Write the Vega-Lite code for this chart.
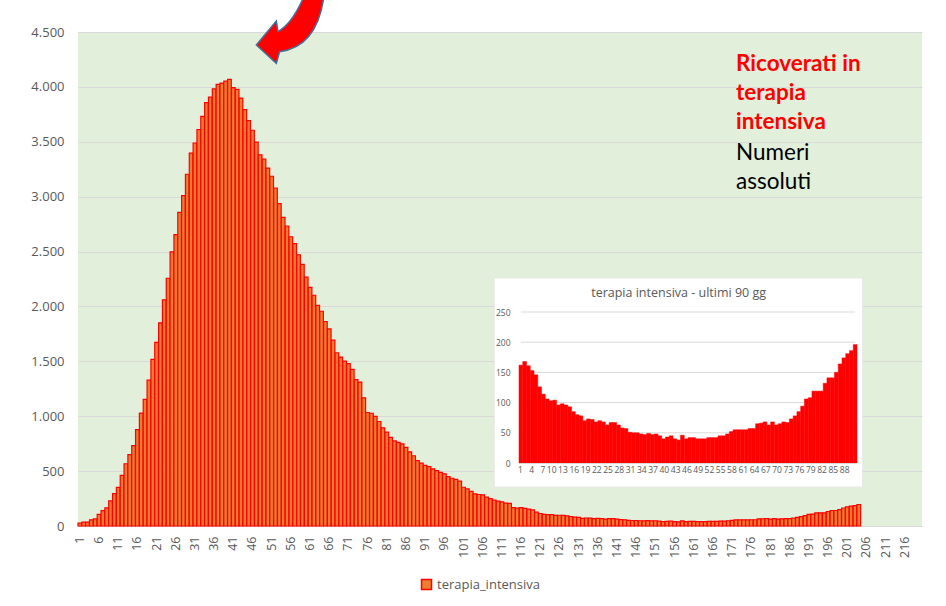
{
  "$schema": "https://vega.github.io/schema/vega-lite/v6.json",
  "width": 844,
  "height": 494,
  "autosize": "none",
  "padding": {"left": 78, "top": 32, "right": 24, "bottom": 80},
  "background": "white",
  "config": {
    "view": {"fill": "#E2EFDA", "stroke": null},
    "font": "Open Sans"
  },
  "datasets": {
    "main": [
      {"day":1,"v":26},{"day":2,"v":35},{"day":3,"v":36},{"day":4,"v":56},{"day":5,"v":64},{"day":6,"v":105},{"day":7,"v":140},{"day":8,"v":166},{"day":9,"v":229},{"day":10,"v":295},
      {"day":11,"v":351},{"day":12,"v":462},{"day":13,"v":567},{"day":14,"v":650},{"day":15,"v":733},{"day":16,"v":877},{"day":17,"v":1028},{"day":18,"v":1153},{"day":19,"v":1328},{"day":20,"v":1518},
      {"day":21,"v":1672},{"day":22,"v":1851},{"day":23,"v":2060},{"day":24,"v":2257},{"day":25,"v":2498},{"day":26,"v":2655},{"day":27,"v":2857},{"day":28,"v":3009},{"day":29,"v":3204},{"day":30,"v":3396},
      {"day":31,"v":3489},{"day":32,"v":3612},{"day":33,"v":3732},{"day":34,"v":3856},{"day":35,"v":3906},{"day":36,"v":3981},{"day":37,"v":4023},{"day":38,"v":4035},{"day":39,"v":4053},{"day":40,"v":4068},
      {"day":41,"v":3994},{"day":42,"v":3977},{"day":43,"v":3898},{"day":44,"v":3792},{"day":45,"v":3693},{"day":46,"v":3605},{"day":47,"v":3497},{"day":48,"v":3381},{"day":49,"v":3343},{"day":50,"v":3260},
      {"day":51,"v":3186},{"day":52,"v":3079},{"day":53,"v":2936},{"day":54,"v":2812},{"day":55,"v":2733},{"day":56,"v":2635},{"day":57,"v":2573},{"day":58,"v":2471},{"day":59,"v":2384},{"day":60,"v":2267},
      {"day":61,"v":2173},{"day":62,"v":2102},{"day":63,"v":2009},{"day":64,"v":1956},{"day":65,"v":1863},{"day":66,"v":1795},{"day":67,"v":1694},{"day":68,"v":1578},{"day":69,"v":1539},{"day":70,"v":1501},
      {"day":71,"v":1479},{"day":72,"v":1427},{"day":73,"v":1333},{"day":74,"v":1311},{"day":75,"v":1168},{"day":76,"v":1034},{"day":77,"v":1027},{"day":78,"v":999},{"day":79,"v":952},{"day":80,"v":893},
      {"day":81,"v":855},{"day":82,"v":808},{"day":83,"v":775},{"day":84,"v":762},{"day":85,"v":749},{"day":86,"v":716},{"day":87,"v":676},{"day":88,"v":640},{"day":89,"v":595},{"day":90,"v":572},
      {"day":91,"v":553},{"day":92,"v":541},{"day":93,"v":521},{"day":94,"v":505},{"day":95,"v":489},{"day":96,"v":475},{"day":97,"v":450},{"day":98,"v":435},{"day":99,"v":424},{"day":100,"v":408},
      {"day":101,"v":353},{"day":102,"v":338},{"day":103,"v":316},{"day":104,"v":293},{"day":105,"v":287},{"day":106,"v":283},{"day":107,"v":263},{"day":108,"v":249},{"day":109,"v":236},{"day":110,"v":227},
      {"day":111,"v":220},{"day":112,"v":209},{"day":113,"v":207},{"day":114,"v":168},{"day":115,"v":162},{"day":116,"v":168},{"day":117,"v":161},{"day":118,"v":153},{"day":119,"v":146},{"day":120,"v":126},
      {"day":121,"v":114},{"day":122,"v":106},{"day":123,"v":103},{"day":124,"v":104},{"day":125,"v":96},{"day":126,"v":98},{"day":127,"v":96},{"day":128,"v":93},{"day":129,"v":85},{"day":130,"v":80},
      {"day":131,"v":78},{"day":132,"v":70},{"day":133,"v":73},{"day":134,"v":72},{"day":135,"v":68},{"day":136,"v":70},{"day":137,"v":68},{"day":138,"v":63},{"day":139,"v":67},{"day":140,"v":67},
      {"day":141,"v":63},{"day":142,"v":58},{"day":143,"v":57},{"day":144,"v":51},{"day":145,"v":50},{"day":146,"v":50},{"day":147,"v":48},{"day":148,"v":47},{"day":149,"v":49},{"day":150,"v":47},
      {"day":151,"v":48},{"day":152,"v":45},{"day":153,"v":40},{"day":154,"v":43},{"day":155,"v":45},{"day":156,"v":40},{"day":157,"v":38},{"day":158,"v":46},{"day":159,"v":40},{"day":160,"v":42},
      {"day":161,"v":42},{"day":162,"v":40},{"day":163,"v":40},{"day":164,"v":40},{"day":165,"v":42},{"day":166,"v":42},{"day":167,"v":42},{"day":168,"v":45},{"day":169,"v":45},{"day":170,"v":48},
      {"day":171,"v":52},{"day":172,"v":55},{"day":173,"v":55},{"day":174,"v":55},{"day":175,"v":55},{"day":176,"v":57},{"day":177,"v":57},{"day":178,"v":65},{"day":179,"v":66},{"day":180,"v":68},
      {"day":181,"v":63},{"day":182,"v":68},{"day":183,"v":63},{"day":184,"v":65},{"day":185,"v":68},{"day":186,"v":67},{"day":187,"v":73},{"day":188,"v":78},{"day":189,"v":85},{"day":190,"v":94},
      {"day":191,"v":106},{"day":192,"v":108},{"day":193,"v":119},{"day":194,"v":119},{"day":195,"v":119},{"day":196,"v":132},{"day":197,"v":141},{"day":198,"v":141},{"day":199,"v":150},{"day":200,"v":164},
      {"day":201,"v":174},{"day":202,"v":181},{"day":203,"v":186},{"day":204,"v":196}
    ],
    "inset": [
      {"g":1,"v":162},{"g":2,"v":168},{"g":3,"v":161},{"g":4,"v":153},{"g":5,"v":146},{"g":6,"v":126},{"g":7,"v":114},{"g":8,"v":106},{"g":9,"v":103},{"g":10,"v":104},
      {"g":11,"v":96},{"g":12,"v":98},{"g":13,"v":96},{"g":14,"v":93},{"g":15,"v":85},{"g":16,"v":80},{"g":17,"v":78},{"g":18,"v":70},{"g":19,"v":73},{"g":20,"v":72},
      {"g":21,"v":68},{"g":22,"v":70},{"g":23,"v":68},{"g":24,"v":63},{"g":25,"v":67},{"g":26,"v":67},{"g":27,"v":63},{"g":28,"v":58},{"g":29,"v":57},{"g":30,"v":51},
      {"g":31,"v":50},{"g":32,"v":50},{"g":33,"v":48},{"g":34,"v":47},{"g":35,"v":49},{"g":36,"v":47},{"g":37,"v":48},{"g":38,"v":45},{"g":39,"v":40},{"g":40,"v":43},
      {"g":41,"v":45},{"g":42,"v":40},{"g":43,"v":38},{"g":44,"v":46},{"g":45,"v":40},{"g":46,"v":42},{"g":47,"v":42},{"g":48,"v":40},{"g":49,"v":40},{"g":50,"v":40},
      {"g":51,"v":42},{"g":52,"v":42},{"g":53,"v":42},{"g":54,"v":45},{"g":55,"v":45},{"g":56,"v":48},{"g":57,"v":52},{"g":58,"v":55},{"g":59,"v":55},{"g":60,"v":55},
      {"g":61,"v":55},{"g":62,"v":57},{"g":63,"v":57},{"g":64,"v":65},{"g":65,"v":66},{"g":66,"v":68},{"g":67,"v":63},{"g":68,"v":68},{"g":69,"v":63},{"g":70,"v":65},
      {"g":71,"v":68},{"g":72,"v":67},{"g":73,"v":73},{"g":74,"v":78},{"g":75,"v":85},{"g":76,"v":94},{"g":77,"v":106},{"g":78,"v":108},{"g":79,"v":119},{"g":80,"v":119},
      {"g":81,"v":119},{"g":82,"v":132},{"g":83,"v":141},{"g":84,"v":141},{"g":85,"v":150},{"g":86,"v":164},{"g":87,"v":174},{"g":88,"v":181},{"g":89,"v":186},{"g":90,"v":196}
    ],
    "igrid": [{"t":50},{"t":100},{"t":150},{"t":200},{"t":250}],
    "notes": [{"note":"annotation"}]
  },
  "layer": [
    {
      "layer": [
        {
          "data": {"name": "main"},
          "mark": {"type": "bar", "stroke": "#FF0000", "strokeWidth": 1.2},
          "encoding": {
            "x": {
              "field": "day", "type": "ordinal",
              "scale": {
                "domain": [1,2,3,4,5,6,7,8,9,10,11,12,13,14,15,16,17,18,19,20,21,22,23,24,25,26,27,28,29,30,31,32,33,34,35,36,37,38,39,40,41,42,43,44,45,46,47,48,49,50,51,52,53,54,55,56,57,58,59,60,61,62,63,64,65,66,67,68,69,70,71,72,73,74,75,76,77,78,79,80,81,82,83,84,85,86,87,88,89,90,91,92,93,94,95,96,97,98,99,100,101,102,103,104,105,106,107,108,109,110,111,112,113,114,115,116,117,118,119,120,121,122,123,124,125,126,127,128,129,130,131,132,133,134,135,136,137,138,139,140,141,142,143,144,145,146,147,148,149,150,151,152,153,154,155,156,157,158,159,160,161,162,163,164,165,166,167,168,169,170,171,172,173,174,175,176,177,178,179,180,181,182,183,184,185,186,187,188,189,190,191,192,193,194,195,196,197,198,199,200,201,202,203,204,205,206,207,208,209,210,211,212,213,214,215,216,217,218,219,220],
                "paddingInner": 0.05, "paddingOuter": 0
              },
              "axis": {
                "values": [1,6,11,16,21,26,31,36,41,46,51,56,61,66,71,76,81,86,91,96,101,106,111,116,121,126,131,136,141,146,151,156,161,166,171,176,181,186,191,196,201,206,211,216],
                "labelAngle": 270, "labelFontSize": 12.5, "labelColor": "#595959", "labelPadding": 10,
                "ticks": false, "tickSize": 0, "domainColor": "#D9D9D9", "domainWidth": 1,
                "grid": false, "title": null, "labelOverlap": false, "orient": "bottom"
              }
            },
            "y": {
              "field": "v", "type": "quantitative",
              "scale": {"domain": [0, 4500], "nice": false},
              "axis": {
                "values": [0,500,1000,1500,2000,2500,3000,3500,4000,4500],
                "labelExpr": "replace(format(datum.value, ','), ',', '.')",
                "domain": false, "ticks": false, "tickSize": 0, "labelPadding": 14,
                "labelFontSize": 13, "labelColor": "#595959",
                "grid": true, "gridColor": "#D9D9D9", "gridWidth": 1, "title": null, "orient": "left"
              }
            },
            "color": {
              "datum": "terapia_intensiva",
              "scale": {"range": ["#ED7D31"]},
              "legend": {
                "orient": "none", "legendX": 342, "legendY": 546, "title": null,
                "symbolType": "square", "symbolSize": 100, "symbolStrokeColor": "#FF0000",
                "symbolStrokeWidth": 1.5, "labelFontSize": 13, "labelColor": "#595959",
                "labelOffset": 4, "padding": 0
              }
            }
          }
        },
        {
          "data": {"name": "notes"},
          "mark": {"type": "rect", "fill": "white", "stroke": "#E6E6E6", "strokeWidth": 0.8},
          "encoding": {
            "x": {"datum": 109, "type": "ordinal"},
            "x2": {"datum": 205},
            "y": {"datum": 355, "type": "quantitative"},
            "y2": {"datum": 2259}
          }
        },
        {
          "data": {"name": "notes"},
          "mark": {"type": "text", "font": "Lato", "fontWeight": "bold", "fontSize": 22.5, "fill": "#FF0000", "align": "left", "baseline": "alphabetic", "lineHeight": 29},
          "encoding": {
            "x": {"datum": 172, "type": "ordinal"},
            "y": {"datum": 4147, "type": "quantitative"},
            "text": {"value": ["Ricoverati in", "terapia", "intensiva"]}
          }
        },
        {
          "data": {"name": "notes"},
          "mark": {"type": "text", "font": "Lato", "fontSize": 22.5, "fill": "#000000", "align": "left", "baseline": "alphabetic", "lineHeight": 29},
          "encoding": {
            "x": {"datum": 172, "type": "ordinal"},
            "y": {"datum": 3334, "type": "quantitative"},
            "text": {"value": ["Numeri", "assoluti"]}
          }
        },
        {
          "data": {"name": "notes"},
          "mark": {
            "type": "point",
            "shape": "M0,0 L0.5,-0.6 L0.54,-0.3325 Q0.925,-0.55 1.225,-1.3 L1.7,-1.3 Q1.55,0.05 0.5825,0.1675 L0.5,0.46 Z",
            "size": 6400, "filled": true, "fill": "#FF0000", "stroke": "#41719C", "strokeWidth": 1.5, "opacity": 1
          },
          "encoding": {
            "x": {"datum": 47, "type": "ordinal"},
            "y": {"datum": 4382, "type": "quantitative"}
          }
        }
      ]
    },
    {
      "layer": [
        {
          "data": {"name": "igrid"},
          "mark": {"type": "rule", "stroke": "#D9D9D9", "strokeWidth": 1},
          "encoding": {
            "x": {"datum": 1, "type": "ordinal", "bandPosition": 0.5},
            "x2": {"datum": 90},
            "y": {"field": "t", "type": "quantitative"}
          }
        },
        {
          "data": {"name": "inset"},
          "mark": {"type": "bar", "fill": "#FF0000", "stroke": "#FF0000", "strokeWidth": 0.5},
          "encoding": {
            "x": {
              "field": "g", "type": "ordinal",
              "scale": {
                "domain": [1,2,3,4,5,6,7,8,9,10,11,12,13,14,15,16,17,18,19,20,21,22,23,24,25,26,27,28,29,30,31,32,33,34,35,36,37,38,39,40,41,42,43,44,45,46,47,48,49,50,51,52,53,54,55,56,57,58,59,60,61,62,63,64,65,66,67,68,69,70,71,72,73,74,75,76,77,78,79,80,81,82,83,84,85,86,87,88,89,90],
                "range": [441, 779], "paddingInner": 0, "paddingOuter": 0
              },
              "axis": {
                "orient": "bottom", "offset": -63, "bandPosition": 0.5, "labelOffset": 1.9,
                "values": [1,4,7,10,13,16,19,22,25,28,31,34,37,40,43,46,49,52,55,58,61,64,67,70,73,76,79,82,85,88],
                "labelAngle": 0, "labelFontSize": 8.5, "labelColor": "#595959", "labelPadding": 6,
                "ticks": false, "tickSize": 0, "domainColor": "#D9D9D9", "grid": false, "title": null,
                "labelOverlap": false, "zindex": 1
              }
            },
            "y": {
              "field": "v", "type": "quantitative",
              "scale": {"domain": [0, 250], "range": [431, 280], "nice": false},
              "axis": {
                "orient": "left", "offset": -441,
                "values": [0,50,100,150,200,250],
                "labelFontSize": 8.5, "labelColor": "#595959", "labelPadding": 9,
                "domain": false, "ticks": false, "tickSize": 0, "grid": false, "title": null, "zindex": 1
              }
            }
          }
        },
        {
          "data": {"name": "notes"},
          "mark": {"type": "text", "fontSize": 12.5, "fill": "#595959", "align": "center", "baseline": "middle"},
          "encoding": {
            "x": {"datum": 43, "type": "ordinal"},
            "y": {"datum": 281, "type": "quantitative"},
            "text": {"value": "terapia intensiva - ultimi 90 gg"}
          }
        }
      ]
    }
  ],
  "resolve": {
    "scale": {"x": "independent", "y": "independent"},
    "axis": {"x": "independent", "y": "independent"}
  }
}
